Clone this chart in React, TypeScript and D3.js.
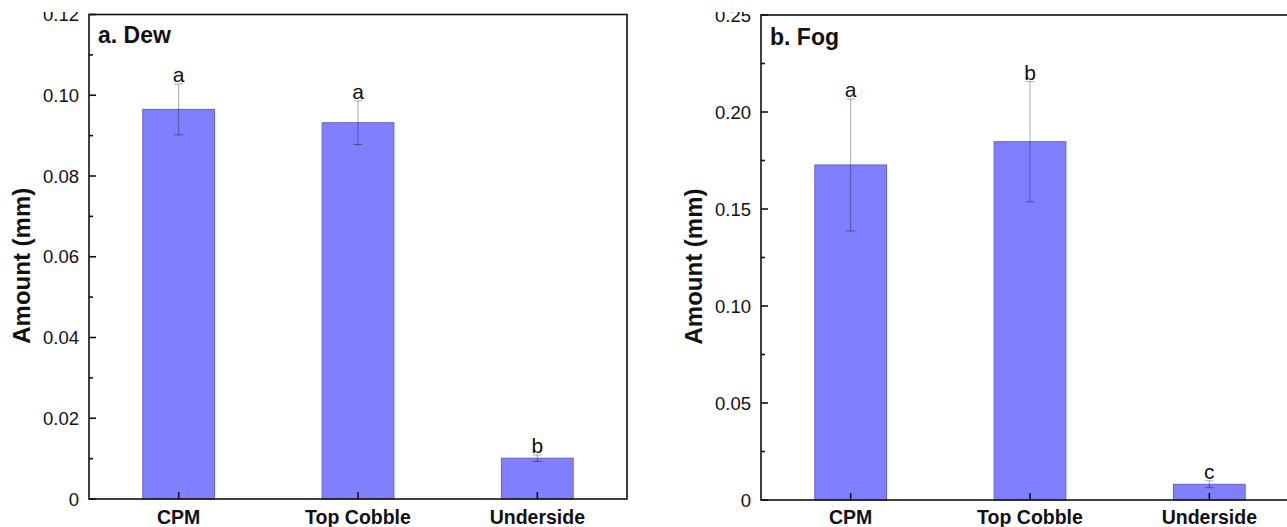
import React from 'react';
import * as d3 from 'd3';

const categories = ['CPM', 'Top Cobble', 'Underside'];
const dewValues = [0.0965, 0.0932, 0.0101];
const dewErrors = [0.0063, 0.0054, 0.0008];
const dewLetters = ['a', 'a', 'b'];
const fogValues = [0.1727, 0.1847, 0.0081];
const fogErrors = [0.034, 0.031, 0.0018];
const fogLetters = ['a', 'b', 'c'];
const dewTicks = [0, 0.02, 0.04, 0.06, 0.08, 0.1, 0.12];
const dewMinor = [0.01, 0.03, 0.05, 0.07, 0.09, 0.11];
const fogTicks = [0, 0.05, 0.1, 0.15, 0.2, 0.25];
const fogMinor = [0.025, 0.075, 0.125, 0.175, 0.225];

const FONT = 'Liberation Sans, Arial, Helvetica, sans-serif';
const fmt = (v: number) => (v === 0 ? '0' : d3.format('.2f')(v));

type PanelProps = {
  x0: number; x1: number; yb: number; yt: number; max: number;
  ticks: number[]; minor: number[]; values: number[]; errors: number[];
  letters: string[]; title: string; titleY: number;
};

function Panel(p: PanelProps) {
  const x = d3.scaleBand<string>().domain(categories).range([p.x0, p.x1]).paddingInner(0.6).paddingOuter(0.3);
  const y = d3.scaleLinear().domain([0, p.max]).range([p.yb, p.yt]);
  const bw = x.bandwidth();
  const axis = '#111';
  return (
    <g>
      {categories.map((c, i) => {
        const cx = (x(c) as number) + bw / 2;
        const v = p.values[i];
        const e = p.errors[i];
        return (
          <g key={c}>
            <rect x={x(c)} y={y(v)} width={bw} height={p.yb - y(v)} fill="#8080ff" stroke="#6464c8" strokeWidth={1} />
            <line x1={cx} x2={cx} y1={y(v - e)} y2={y(v + e)} stroke="#000" strokeOpacity={0.35} strokeWidth={1} />
            <line x1={cx - 4.5} x2={cx + 4.5} y1={y(v - e)} y2={y(v - e)} stroke="#000" strokeOpacity={0.4} strokeWidth={1} />
            <line x1={cx - 4.5} x2={cx + 4.5} y1={y(v + e)} y2={y(v + e)} stroke="#000" strokeOpacity={0.3} strokeWidth={1} />
            <text x={cx} y={y(v + e) - 2} textAnchor="middle" fontFamily={FONT} fontSize={21} fill="#111">{p.letters[i]}</text>
            <line x1={cx} x2={cx} y1={p.yb} y2={p.yb - 7} stroke={axis} strokeWidth={1.6} />
            <text x={cx} y={524} textAnchor="middle" fontFamily={FONT} fontSize={19.5} fontWeight="bold" fill="#111">{c}</text>
          </g>
        );
      })}
      {p.ticks.map((t) => (
        <g key={t}>
          <line x1={p.x0} x2={p.x0 + 7} y1={y(t)} y2={y(t)} stroke={axis} strokeWidth={1.6} />
          <text x={p.x0 - 10} y={y(t)} dy="0.36em" textAnchor="end" fontFamily={FONT} fontSize={18.5} fill="#111">{fmt(t)}</text>
        </g>
      ))}
      {p.minor.map((t) => (
        <line key={t} x1={p.x0} x2={p.x0 + 4} y1={y(t)} y2={y(t)} stroke={axis} strokeWidth={1.6} />
      ))}
      <rect x={p.x0} y={p.yt} width={p.x1 - p.x0} height={p.yb - p.yt} fill="none" stroke={axis} strokeWidth={1.6} />
      <text x={p.x0 + 9} y={p.titleY} fontFamily={FONT} fontSize={23} fontWeight="bold" fill="#111">{p.title}</text>
      <text transform={`translate(${p.x0 - 59},${(p.yb + p.yt) / 2 + 9}) rotate(-90)`} textAnchor="middle" fontFamily={FONT} fontSize={24} fontWeight="bold" fill="#111">Amount (mm)</text>
    </g>
  );
}

export default function App() {
  return (
    <svg width={1287} height={527} style={{ position: 'absolute', left: 0, top: 0, background: '#fff' }}>
      <rect x={0} y={0} width={1287} height={527} fill="#fff" />
      <Panel x0={89} x1={627} yb={499} yt={14.5} max={0.12} ticks={dewTicks} minor={dewMinor}
        values={dewValues} errors={dewErrors} letters={dewLetters} title="a. Dew" titleY={43} />
      <Panel x0={761} x1={1299} yb={500} yt={15} max={0.25} ticks={fogTicks} minor={fogMinor}
        values={fogValues} errors={fogErrors} letters={fogLetters} title="b. Fog" titleY={45} />
      <rect x={0} y={0} width={87} height={12} fill="#fff" />
      <rect x={630} y={0} width={129} height={12} fill="#fff" />
    </svg>
  );
}
